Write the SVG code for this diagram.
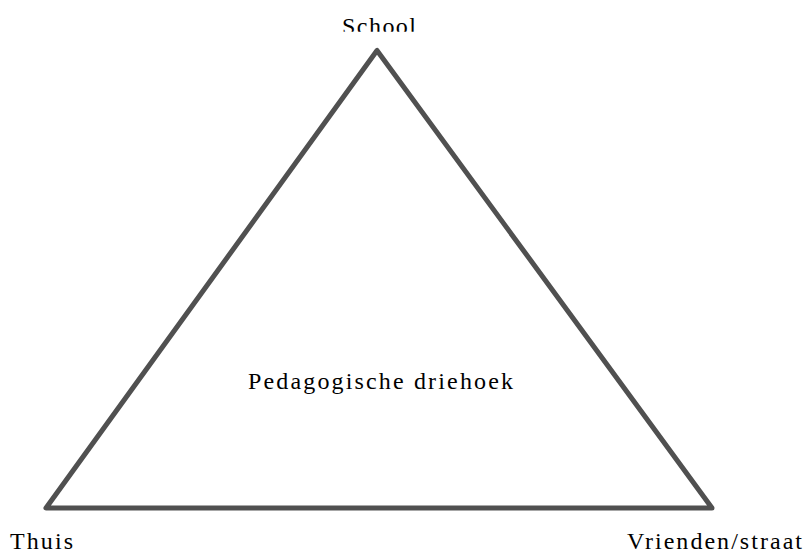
<svg xmlns="http://www.w3.org/2000/svg" width="807" height="552" viewBox="0 0 807 552">
<style>
.lbl{font-family:"Liberation Serif","DejaVu Serif",serif;font-size:24px;fill:#000}
.edge{fill:none;stroke:#505050;stroke-width:5;stroke-linejoin:round;stroke-linecap:round}
</style>
<defs>
<clipPath id="topclip"><rect x="0" y="0" width="807" height="31.7"/></clipPath>
</defs>
<rect width="807" height="552" fill="#fff"/>
<g id="connectors">
<polygon class="edge" points="377,50.5 46,508 712,508"/>
</g>
<g id="school" clip-path="url(#topclip)"><text class="lbl" x="342" y="34" textLength="74" lengthAdjust="spacing">School</text></g>
<g id="center"><text class="lbl" x="248" y="389" textLength="265" lengthAdjust="spacing">Pedagogische driehoek</text></g>
<g id="thuis"><text class="lbl" x="10" y="549" textLength="63" lengthAdjust="spacing">Thuis</text></g>
<g id="vrienden"><text class="lbl" x="627" y="549" textLength="175" lengthAdjust="spacing">Vrienden/straat</text></g>
</svg>
